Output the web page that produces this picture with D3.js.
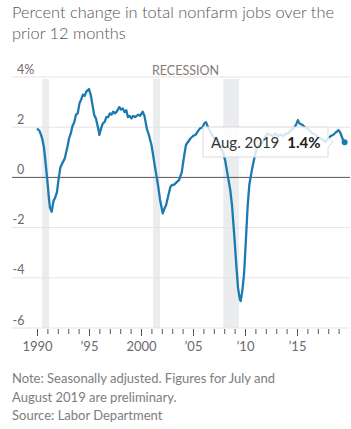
<!DOCTYPE html>
<html>
<head>
<meta charset="utf-8">
<script src="https://cdn.jsdelivr.net/npm/d3@7"></script>
<style>
  body { margin: 0; background: #fff; }
  svg text { font-family: Lato, "Open Sans", sans-serif; }
</style>
</head>
<body>
<div id="wrapper"></div>
<script>
// year-over-year % change in nonfarm payrolls
const months = [
  '1990-01','1990-04','1990-07','1990-09','1990-11','1991-01','1991-03','1991-04','1991-06','1991-08',
  '1991-10','1991-12','1992-02','1992-04','1992-06','1992-09','1992-12','1993-02','1993-04','1993-06',
  '1993-08','1993-10','1993-12','1994-02','1994-04','1994-06','1994-08','1994-10','1995-01','1995-03',
  '1995-05','1995-07','1995-09','1995-12','1996-01','1996-03','1996-05','1996-07','1996-09','1996-11',
  '1997-01','1997-03','1997-05','1997-07','1997-09','1997-12','1998-02','1998-04','1998-06','1998-08',
  '1998-10','1998-12','1999-02','1999-04','1999-06','1999-08','1999-10','1999-12','2000-03','2000-05',
  '2000-08','2000-10','2001-01','2001-03','2001-05','2001-07','2001-09','2001-11','2002-02','2002-04',
  '2002-06','2002-08','2002-11','2003-01','2003-03','2003-06','2003-09','2003-12','2004-03','2004-05',
  '2004-08','2004-10','2005-01','2005-04','2005-07','2005-09','2005-12','2006-02','2006-04','2006-07',
  '2006-10','2007-01','2007-05','2007-08','2007-11','2008-02','2008-05','2008-08','2008-10','2009-01',
  '2009-03','2009-05','2009-07','2009-08','2009-10','2009-12','2010-02','2010-04','2010-06','2010-09',
  '2010-12','2011-03','2011-06','2011-09','2011-12','2012-03','2012-06','2012-09','2012-12','2013-03',
  '2013-06','2013-09','2013-12','2014-03','2014-06','2014-09','2014-12','2015-02','2015-04','2015-07',
  '2015-10','2016-01','2016-04','2016-07','2016-10','2017-01','2017-04','2017-07','2017-10','2018-01',
  '2018-04','2018-07','2018-10','2019-01','2019-03','2019-05','2019-06','2019-08'
]
const pctChange = [
  1.95, 1.85, 1.55, 1.2, 0.55, -0.15, -0.9, -1.2, -1.37, -0.95,
  -0.8, -0.6, -0.05, 0.4, 0.55, 0.75, 1.2, 1.55, 1.75, 2.05,
  2.2, 2.5, 2.55, 2.95, 3.1, 3.3, 3.25, 3.42, 3.52, 3.3,
  2.9, 2.5, 2.35, 1.9, 1.69, 1.95, 2.15, 2.2, 2.4, 2.4,
  2.55, 2.5, 2.62, 2.55, 2.62, 2.8, 2.7, 2.75, 2.6, 2.68,
  2.4, 2.45, 2.35, 2.45, 2.4, 2.45, 2.5, 2.45, 2.62, 2.45,
  1.9, 1.7, 1.3, 0.9, 0.45, 0.05, -0.4, -0.9, -1.43, -1.25,
  -1.1, -0.8, -0.37, -0.3, -0.3, -0.2, -0.1, 0.2, 0.9, 1.3,
  1.45, 1.55, 1.65, 1.7, 1.85, 1.95, 2.0, 2.15, 2.2, 1.95,
  1.75, 1.6, 1.4, 1.25, 1.05, 0.7, 0.1, -0.5, -1.1, -2.5,
  -3.5, -4.4, -4.85, -4.93, -4.5, -3.8, -2.5, -1.2, -0.3, 0.3,
  0.8, 1.2, 1.3, 1.4, 1.6, 1.75, 1.7, 1.65, 1.75, 1.65,
  1.7, 1.65, 1.75, 1.75, 1.9, 1.95, 2.1, 2.28, 2.15, 2.1,
  2.0, 1.95, 1.85, 1.75, 1.7, 1.6, 1.55, 1.5, 1.42, 1.55,
  1.65, 1.7, 1.8, 1.88, 1.78, 1.6, 1.5, 1.4
]
const recessionStart = ['1990-07', '2001-03', '2007-12']
const recessionEnd = ['1991-03', '2001-11', '2009-06']
const yTicks = [4, 2, 0, -2, -4, -6]
const xLabelYears = [1990, 1995, 2000, 2005, 2010, 2015]
const xLabels = ['1990', '\u201995', '2000', '\u201905', '\u201910', '\u201915']
const titleLines = ['Percent change in total nonfarm jobs over the', 'prior 12 months']
const noteLines = [
  'Note: Seasonally adjusted. Figures for July and',
  'August 2019 are preliminary.',
  'Source: Labor Department'
]
const tipLabel = 'Aug. 2019'
const tipValue = '1.4%'

const parseMonth = d3.timeParse('%Y-%m')
const data = months.map((m, i) => ({ date: parseMonth(m), value: pctChange[i] }))

let dimensions = {
  width: 351,
  height: 429,
  plotLeft: 12,
  plotRight: 350,
  top: 77,
  bottom: 328
}

const svg = d3.select('#wrapper').append('svg')
  .attr('width', dimensions.width)
  .attr('height', dimensions.height)

const xScale = d3.scaleTime()
  .domain([new Date(1990, 0, 1), new Date(2020, 0, 1)])
  .range([37, 349])

const yScale = d3.scaleLinear()
  .domain([-6, 4])
  .range([dimensions.bottom, dimensions.top])

// title
svg.append('g').selectAll('text')
  .data(titleLines)
  .enter().append('text')
  .attr('x', 12)
  .attr('y', (d, i) => 18 + i * 21)
  .attr('font-size', 16.4)
  .attr('font-weight', 300)
  .attr('fill', '#555')
  .text(d => d)

// recession bands
svg.append('g').selectAll('rect')
  .data(recessionStart)
  .enter().append('rect')
  .attr('x', d => xScale(parseMonth(d)))
  .attr('width', (d, i) => xScale(parseMonth(recessionEnd[i])) - xScale(parseMonth(d)))
  .attr('y', yScale(4) + 2)
  .attr('height', yScale(-6) - yScale(4) - 2)
  .attr('fill', '#ebeced')

svg.append('text')
  .attr('x', 152)
  .attr('y', 75)
  .attr('font-size', 12.5)
  .attr('fill', '#857c78')
  .text('RECESSION')

// gridlines
svg.append('g').selectAll('line')
  .data(yTicks.filter(d => d !== 0))
  .enter().append('line')
  .attr('x1', dimensions.plotLeft)
  .attr('x2', dimensions.plotRight)
  .attr('y1', d => yScale(d))
  .attr('y2', d => yScale(d))
  .attr('stroke', '#e4e4e4')
  .attr('stroke-width', 1)

svg.append('line')
  .attr('x1', dimensions.plotLeft)
  .attr('x2', dimensions.plotRight)
  .attr('y1', yScale(0))
  .attr('y2', yScale(0))
  .attr('stroke', '#555')
  .attr('stroke-width', 1)

// y labels
svg.append('g').selectAll('text')
  .data(yTicks)
  .enter().append('text')
  .attr('x', d => d < 0 ? 12.5 : 17)
  .attr('y', d => yScale(d) - 3.5)
  .attr('font-size', 12.5)
  .attr('fill', '#6d6870')
  .text(d => d === 4 ? '4%' : d)

// x axis
const minorAxis = d3.axisBottom(xScale)
  .tickValues(d3.range(1990, 2020).map(y => new Date(y, 0, 1)))
  .tickSize(5)
  .tickFormat('')
const majorAxis = d3.axisBottom(xScale)
  .tickValues(xLabelYears.map(y => new Date(y, 0, 1)))
  .tickSize(7)
  .tickPadding(6)
  .tickFormat((d, i) => xLabels[i])

const gMinor = svg.append('g')
  .attr('transform', `translate(0, ${dimensions.bottom + 1})`)
  .call(minorAxis)
const gMajor = svg.append('g')
  .attr('transform', `translate(0, ${dimensions.bottom + 1})`)
  .call(majorAxis)
svg.selectAll('.domain').remove()
svg.selectAll('.tick line').attr('stroke', '#555')
gMajor.selectAll('text')
  .attr('font-size', 13)
  .attr('fill', '#6d6870')
  .style('font-family', 'Lato, sans-serif')

// line
const line = d3.line()
  .x(d => xScale(d.date))
  .y(d => yScale(d.value))

svg.append('path')
  .datum(data)
  .attr('d', line)
  .attr('fill', 'none')
  .attr('stroke', '#1b7bb0')
  .attr('stroke-width', 2.3)
  .attr('stroke-linejoin', 'round')

const last = data[data.length - 1]
svg.append('circle')
  .attr('cx', xScale(last.date))
  .attr('cy', yScale(last.value))
  .attr('r', 3)
  .attr('fill', '#1b7bb0')

// tooltip
const tipRight = 328
const tipTop = 127
const tipBottom = 157
const tipLeft = 203
const tipMid = (tipTop + tipBottom) / 2
svg.append('path')
  .attr('d', `M${tipLeft},${tipTop} H${tipRight} V${tipMid - 5} L${tipRight + 5},${tipMid} L${tipRight},${tipMid + 5} V${tipBottom} H${tipLeft} Z`)
  .attr('fill', 'rgba(255,255,255,0.82)')
  .attr('stroke', '#dcdcdc')
  .attr('stroke-width', 1)

const tipText = svg.append('text')
  .attr('x', 211)
  .attr('y', 148)
  .attr('font-size', 15)
  .attr('fill', '#333')
tipText.append('tspan').text(tipLabel)
tipText.append('tspan')
  .attr('dx', 8)
  .attr('font-weight', 'bold')
  .attr('fill', '#222')
  .text(tipValue)

// note
svg.append('g').selectAll('text')
  .data(noteLines)
  .enter().append('text')
  .attr('x', 12)
  .attr('y', (d, i) => 383 + i * 18.5)
  .attr('font-size', 13)
  .attr('fill', '#7d7d7d')
  .text(d => d)
</script>
</body>
</html>
